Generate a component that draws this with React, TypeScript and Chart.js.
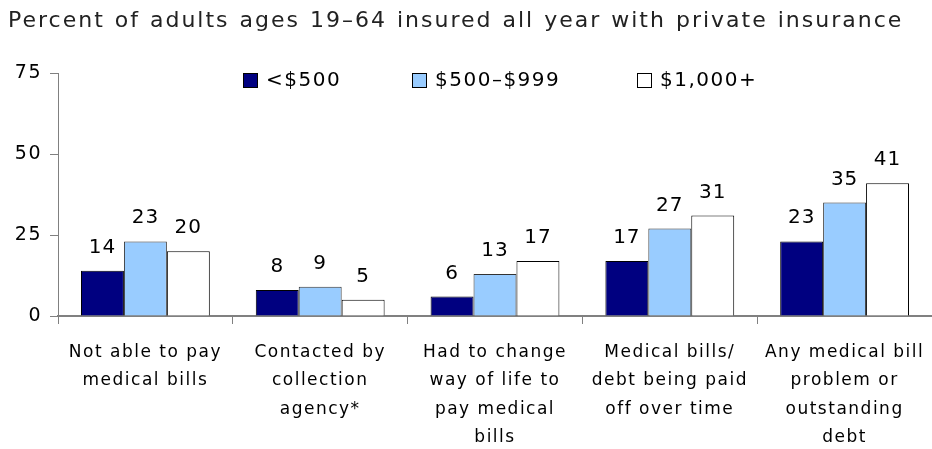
import React, { useEffect, useRef } from "react";
import { Chart, registerables } from "chart.js";
Chart.register(...registerables);

const titleText = "Percent of adults ages 19–64 insured all year with private insurance";
const categories: string[][] = [
  ["Not able to pay", "medical bills"],
  ["Contacted by", "collection", "agency*"],
  ["Had to change", "way of life to", "pay medical", "bills"],
  ["Medical bills/", "debt being paid", "off over time"],
  ["Any medical bill", "problem or", "outstanding", "debt"],
];
const seriesNames = ["<$500", "$500–$999", "$1,000+"];
const under500 = [14, 8, 6, 17, 23];
const from500to999 = [23, 9, 13, 27, 35];
const over1000 = [20, 5, 17, 31, 41];
const yTickValues = [0, 25, 50, 75];

const FONT = "'DejaVu Sans', Verdana, sans-serif";
const fills = ["#000080", "#99CCFF", "#FFFFFF"];
const borders = ["#000000", "#333333", "#000000"];
const legendX = [243, 412, 637];

const customPlugin = {
  id: "custom",
  beforeDraw(chart: any) {
    const ctx = chart.ctx;
    ctx.letterSpacing = "1.5px";
  },
  afterDraw(chart: any) {
    const ctx = chart.ctx;
    ctx.save();
    // title
    ctx.font = `22px ${FONT}`;
    ctx.letterSpacing = "2px";
    ctx.wordSpacing = "1px";
    ctx.fillStyle = "#222";
    ctx.textAlign = "left";
    ctx.textBaseline = "middle";
    ctx.fillText(titleText, 8, 21);
    ctx.wordSpacing = "0px";
    // legend
    ctx.font = `20px ${FONT}`;
    ctx.letterSpacing = "1.5px";
    chart.data.datasets.forEach((ds: any, i: number) => {
      const x = legendX[i];
      const y = 73;
      ctx.fillStyle = ds.backgroundColor;
      ctx.fillRect(x, y, 15, 15);
      ctx.strokeStyle = "#000";
      ctx.lineWidth = 1;
      ctx.strokeRect(x + 0.5, y + 0.5, 14, 14);
      ctx.fillStyle = "#000";
      ctx.textBaseline = "middle";
      ctx.fillText(ds.label, x + 23, y + 8);
    });
    // data labels
    ctx.font = `20px ${FONT}`;
    ctx.letterSpacing = "1px";
    ctx.textAlign = "center";
    ctx.textBaseline = "alphabetic";
    ctx.fillStyle = "#000";
    chart.data.datasets.forEach((ds: any, i: number) => {
      const meta = chart.getDatasetMeta(i);
      meta.data.forEach((bar: any, j: number) => {
        ctx.fillText(String(ds.data[j]), bar.x, bar.y - 18);
      });
    });
    ctx.restore();
    ctx.letterSpacing = "0px";
  },
};

export default function App() {
  const ref = useRef<HTMLCanvasElement>(null);
  useEffect(() => {
    if (!ref.current) return;
    const values = [under500, from500to999, over1000];
    const chart = new Chart(ref.current, {
      type: "bar",
      data: {
        labels: categories,
        datasets: values.map((v, i) => ({
          label: seriesNames[i],
          data: v,
          backgroundColor: fills[i],
          borderColor: borders[i],
          borderWidth: 1,
          categoryPercentage: 0.737,
          barPercentage: 1,
        })),
      },
      options: {
        responsive: false,
        animation: false,
        layout: { padding: { top: 73, right: 0, left: 0, bottom: 0 } },
        plugins: { legend: { display: false }, tooltip: { enabled: false }, title: { display: false } },
        scales: {
          x: {
            grid: { offset: true, drawOnChartArea: false, drawTicks: true, tickLength: 8, color: "#808080", lineWidth: 1 },
            border: { color: "#808080", width: 2 },
            ticks: { font: { family: FONT, size: 17, lineHeight: 1.65 }, color: "#000", padding: 15, maxRotation: 0, autoSkip: false },
            afterFit: (s: any) => { s.height = 133; },
          },
          y: {
            min: 0,
            max: 75,
            afterBuildTicks: (s: any) => { s.ticks = yTickValues.map((v) => ({ value: v })); },
            grid: { drawOnChartArea: false, drawTicks: true, tickLength: 8, color: "#808080" },
            border: { color: "#808080", width: 1 },
            ticks: { font: { family: FONT, size: 19 }, color: "#000", padding: 8 },
            afterFit: (s: any) => { s.width = 58; },
          },
        },
      },
      plugins: [customPlugin],
    });
    return () => chart.destroy();
  }, []);
  return (
    <canvas ref={ref} width={932} height={449} style={{ position: "absolute", left: 0, top: 0, display: "block" }} />
  );
}
